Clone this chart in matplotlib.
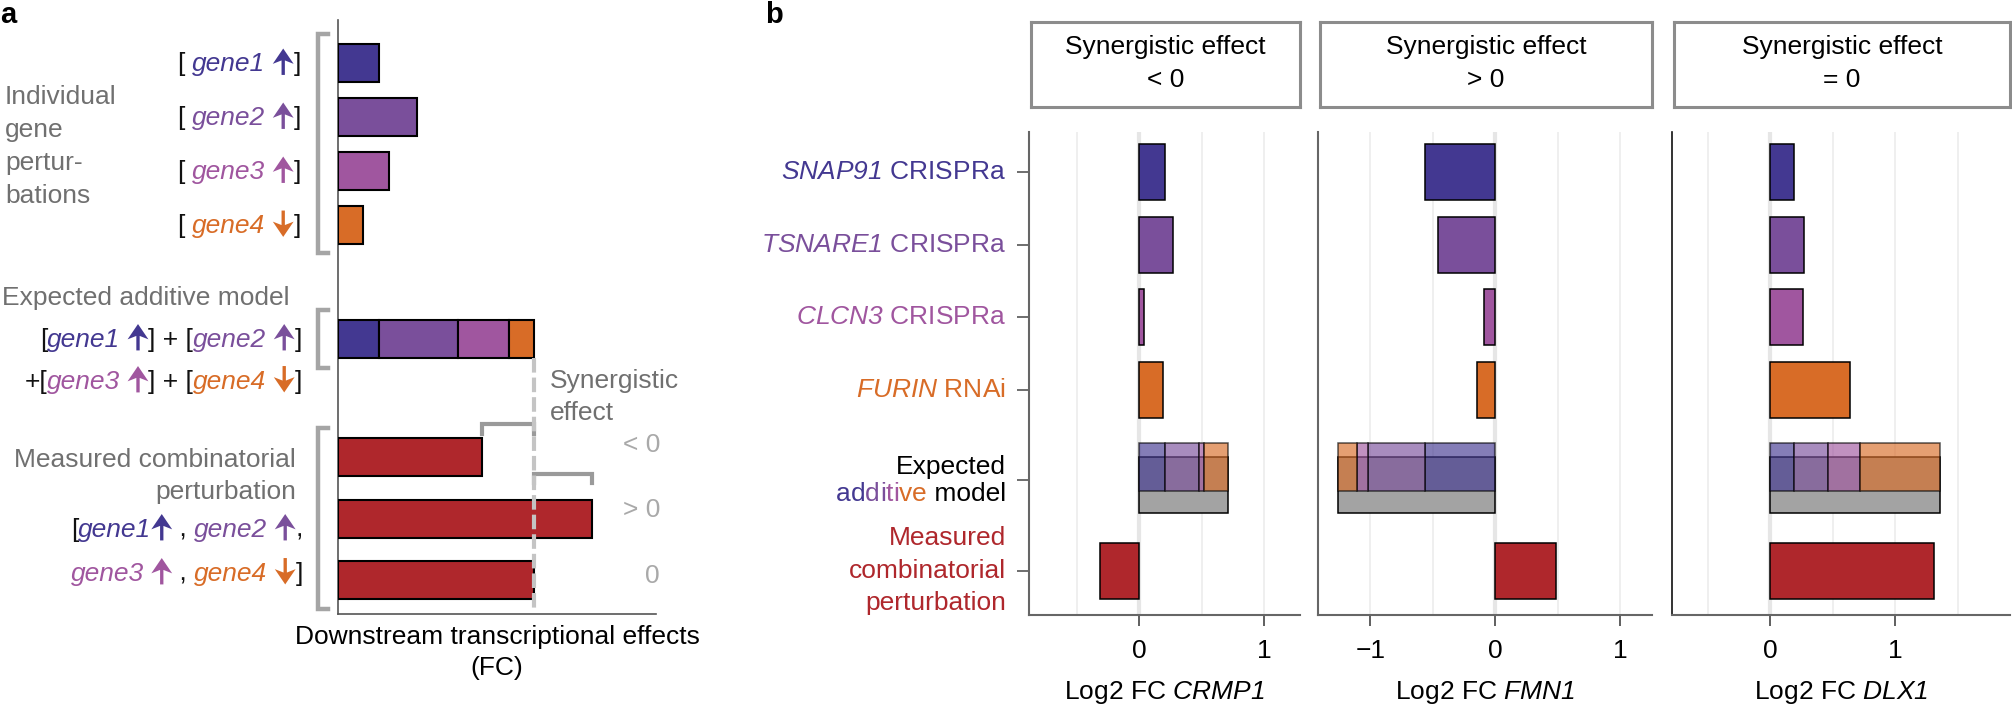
import numpy as np
import matplotlib
matplotlib.use("Agg")
import matplotlib.pyplot as plt
from matplotlib.ticker import MultipleLocator
from matplotlib.offsetbox import TextArea, DrawingArea, HPacker, VPacker, AnnotationBbox
from matplotlib.patches import Polygon

plt.rcParams['font.family'] = ['Liberation Sans', 'DejaVu Sans']
plt.rcParams['mathtext.fontset'] = 'custom'
plt.rcParams['mathtext.rm'] = 'Liberation Sans'
plt.rcParams['mathtext.it'] = 'Liberation Sans:italic'
# sf slot used for italic gene names (keeps digits italic too)
plt.rcParams['mathtext.sf'] = 'Liberation Sans:italic'

W, H = 2012, 706
FS = 19

BLUE = '#433891'
PURPLE = '#7a4f9b'
MAGENTA = '#a0569f'
ORANGE = '#d86c27'
RED = '#af272c'
GRAYTXT = '#707070'
gene_colors = [BLUE, PURPLE, MAGENTA, ORANGE]

# panel a (schematic, arbitrary FC units)
a_genes = ['gene1', 'gene2', 'gene3', 'gene4']
a_dirs = ['up', 'up', 'up', 'down']
a_single = [0.41, 0.79, 0.51, 0.25]
a_measured = [1.44, 2.54, 1.96]
a_syn_labels = ['< 0', '> 0', '0']

# panel b
b_targets = ['CRMP1', 'FMN1', 'DLX1']
b_titles = ['< 0', '> 0', '= 0']
b_perturb = ['SNAP91', 'TSNARE1', 'CLCN3', 'FURIN']
b_method = ['CRISPRa', 'CRISPRa', 'CRISPRa', 'RNAi']
crmp1_single = [0.21, 0.27, 0.04, 0.19]
fmn1_single = [-0.56, -0.46, -0.09, -0.15]
dlx1_single = [0.19, 0.27, 0.26, 0.64]
b_measured = [-0.31, 0.49, 1.31]
b_xlims = [(-0.88, 1.285), (-1.42, 1.255), (-0.785, 1.92)]


def fy(y):
    return 1 - y / H


def axes_px(l, t, r, b):
    return fig.add_axes([l / W, 1 - b / H, (r - l) / W, (b - t) / H])


def arrow_box(color, direction):
    w, h, d = 15, 19, 2.5
    da = DrawingArea(w, h, 0, d)
    pts = np.array([[0.5, 1.0], [1.0, 0.42], [0.58, 0.55], [0.58, 0.0],
                     [0.42, 0.0], [0.42, 0.55], [0.0, 0.42]])
    if direction == 'down':
        pts[:, 1] = 1 - pts[:, 1]
    pts = pts * [w, h] - [0, d]
    da.add_artist(Polygon(pts, closed=True, facecolor=color, edgecolor='none'))
    return da


def rich(parts, x, y, align=1.0):
    kids = []
    for p in parts:
        if p[0] == 'arrow':
            kids.append(arrow_box(p[1], p[2]))
        else:
            s, col, it = p
            kids.append(TextArea(s, textprops=dict(color=col, fontsize=FS,
                                                   fontstyle='italic' if it else 'normal')))
    box = HPacker(children=kids, align='baseline', pad=0, sep=0)
    ab = AnnotationBbox(box, (x, H - y), xycoords='figure pixels',
                        box_alignment=(align, 0.5), frameon=False, pad=0,
                        annotation_clip=False)
    fig.add_artist(ab)


fig = plt.figure(figsize=(W / 100, H / 100), dpi=100)

# ---------------- panel a ----------------
axa = axes_px(338, 20, 656, 614)
rows_a = [42.5, 96.5, 150.5, 204.5, 319, 437, 499, 560]
bh = 38
axa.barh(rows_a[:4], a_single, height=bh, color=gene_colors, edgecolor='black', lw=1.5, zorder=3)
lefts = np.cumsum(a_single) - a_single
axa.barh([rows_a[4]] * 4, a_single, left=lefts, height=bh, color=gene_colors,
         edgecolor='black', lw=1.5, zorder=3)
axa.barh(rows_a[5:], a_measured, height=bh, color=RED, edgecolor='black', lw=1.5, zorder=3)
axa.set_xlim(0, 3.18)
axa.set_ylim(594, 0)
axa.set_xticks([])
axa.set_yticks([])
for s in ['top', 'right']:
    axa.spines[s].set_visible(False)
for s in ['left', 'bottom']:
    axa.spines[s].set_color('#555555')
    axa.spines[s].set_linewidth(1.2)

total = np.sum(a_single)
axa.plot([total, total], [rows_a[4] + bh / 2, 589], ls=(0, (3.5, 1.2)), color='#c4c4c4',
         lw=3, zorder=4)
y1 = rows_a[5] - 33
axa.plot([a_measured[0], a_measured[0], total, total], [y1 + 10, y1, y1, y1 + 10],
         color='#9a9a9a', lw=3, solid_joinstyle='miter', zorder=2, clip_on=False)
y2 = rows_a[6] - 45
axa.plot([total, total, a_measured[1], a_measured[1]], [y2 + 9, y2, y2, y2 + 9],
         color='#9a9a9a', lw=3, solid_joinstyle='miter', zorder=2, clip_on=False)

# group brackets
tr = axa.get_yaxis_transform()
for g in [(0, 3), (4, 4), (5, 7)]:
    top = rows_a[g[0]] - 29
    bot = rows_a[g[1]] + 28.5
    axa.plot([-0.0314, -0.0629, -0.0629, -0.0314], [top, top, bot, bot], transform=tr,
             color='#a5a5a5', lw=3.2, solid_joinstyle='miter', clip_on=False)

fig.text(0, fy(23), 'a', fontweight='bold', fontsize=21, va='baseline')
fig.text(765 / W, fy(23), 'b', fontweight='bold', fontsize=21, va='baseline')

for i, line in enumerate(['Individual', 'gene', 'pertur-', 'bations']):
    fig.text(5 / W, fy(97 + 33 * i), line, color=GRAYTXT, fontsize=FS, va='center')
fig.text(2 / W, fy(298), 'Expected additive model', color=GRAYTXT, fontsize=FS, va='center')
fig.text(296 / W, fy(460), 'Measured combinatorial', color=GRAYTXT, fontsize=FS,
         va='center', ha='right')
fig.text(296 / W, fy(492), 'perturbation', color=GRAYTXT, fontsize=FS, va='center', ha='right')

K = '#111111'
for i in range(4):
    rich([('[ ', K, False), (a_genes[i], gene_colors[i], True), (' ', K, False),
          ('arrow', gene_colors[i], a_dirs[i]), (']', K, False)], 301, 62.5 + 54 * i)


def g(i):
    return (a_genes[i], gene_colors[i], True)


def ar(i):
    return ('arrow', gene_colors[i], a_dirs[i])


rich([('[', K, False), g(0), (' ', K, False), ar(0), ('] + [', K, False), g(1),
      (' ', K, False), ar(1), (']', K, False)], 302, 338)
rich([('+[', K, False), g(2), (' ', K, False), ar(2), ('] + [', K, False), g(3),
      (' ', K, False), ar(3), (']', K, False)], 302, 380)
rich([('[', K, False), g(0), ar(0), (' , ', K, False), g(1), (' ', K, False), ar(1),
      (',', K, False)], 303, 528)
rich([g(2), (' ', K, False), ar(2), (' , ', K, False), g(3), (' ', K, False), ar(3),
      (']', K, False)], 303, 572)

fig.text(550 / W, fy(381), 'Synergistic', color=GRAYTXT, fontsize=FS, va='center')
fig.text(550 / W, fy(413), 'effect', color=GRAYTXT, fontsize=FS, va='center')
for lab, yy in zip(a_syn_labels, [445, 510, 576]):
    fig.text(660 / W, fy(yy), lab, color='#a9a9a9', fontsize=FS, va='center', ha='right')

fig.text(497 / W, fy(637), 'Downstream transcriptional effects', fontsize=FS,
         ha='center', va='center')
fig.text(497 / W, fy(668), '(FC)', fontsize=FS, ha='center', va='center')

# ---------------- panel b ----------------
rows_b = [0, 1, 2, 3, 4.24, 5.48]
pos_px = [(1029, 1300), (1318, 1652), (1672, 2010)]
singles = [crmp1_single, fmn1_single, dlx1_single]
axes_b = []
for k in range(3):
    l, r = pos_px[k]
    ax = axes_px(l, 132, r, 615)
    axes_b.append(ax)
    vals = singles[k]
    ax.axvline(0, color='#e6e6e6', lw=3, zorder=1)
    ax.barh(rows_b[:4], vals, height=0.77, color=gene_colors, edgecolor='black',
            lw=1.1, zorder=3)
    tot = np.sum(vals)
    ax.barh(rows_b[4] + 0.06, tot, height=0.765, color='#a3a3a3', edgecolor='black',
            lw=1.1, zorder=3)
    left = np.cumsum(vals) - vals
    ax.barh([rows_b[4] - 0.18] * 4, vals, left=left, height=0.656, color=gene_colors,
            edgecolor='black', lw=1.1, alpha=0.65, zorder=4)
    ax.barh(rows_b[5], b_measured[k], height=0.77, color=RED, edgecolor='black',
            lw=1.1, zorder=3)
    ax.set_xlim(*b_xlims[k])
    ax.set_ylim(6.09, -0.55)
    ax.xaxis.set_major_locator(MultipleLocator(1))
    ax.xaxis.set_minor_locator(MultipleLocator(0.5))
    ax.grid(axis='x', which='both', color='#ececec', lw=1.2)
    ax.set_axisbelow(True)
    ax.tick_params(axis='x', which='minor', length=0)
    ax.tick_params(axis='x', which='major', length=8, width=1.2, color='#444444',
                   labelsize=FS, pad=9.5)
    ax.set_yticks(rows_b)
    if k == 0:
        ax.tick_params(axis='y', length=8.5, width=1.2, color='#555555', labelleft=False)
    else:
        ax.tick_params(axis='y', left=False, labelleft=False)
    for s in ['top', 'right']:
        ax.spines[s].set_visible(False)
    for s in ['left', 'bottom']:
        ax.spines[s].set_color('#666666')
        ax.spines[s].set_linewidth(1.5)
    if k == 2:
        ax.spines['left'].set_color('#111111')
        ax.spines['left'].set_linewidth(1.2)
    ax.set_xlabel(r'Log2 FC $\mathsf{' + b_targets[k] + '}$', fontsize=FS, labelpad=11.5)

    st = axes_px(l + 2, 22, r, 107)
    st.set_xticks([])
    st.set_yticks([])
    for s in st.spines.values():
        s.set_color('#8c8c8c')
        s.set_linewidth(2.2)
    st.text(0.5, 0.706, 'Synergistic effect', ha='center', va='center', fontsize=FS,
            transform=st.transAxes)
    st.text(0.5, 0.318, b_titles[k], ha='center', va='center', fontsize=FS,
            transform=st.transAxes)

ax1 = axes_b[0]
ytr = ax1.get_yaxis_transform()
xlab = -0.0849
for i in range(4):
    ax1.text(xlab, rows_b[i], r'$\mathsf{' + b_perturb[i] + '}$ ' + b_method[i],
             transform=ytr, ha='right', va='center', fontsize=FS, color=gene_colors[i])

add_cols = [BLUE, BLUE, PURPLE, PURPLE, MAGENTA, MAGENTA, ORANGE, ORANGE]
kids = [TextArea(ch, textprops=dict(color=c, fontsize=FS)) for ch, c in zip('additive', add_cols)]
kids.append(TextArea(' model', textprops=dict(color='black', fontsize=FS)))
exp_box = VPacker(children=[TextArea('Expected', textprops=dict(color='black', fontsize=FS)),
                            HPacker(children=kids, align='baseline', pad=0, sep=0)],
                  align='right', pad=0, sep=2)
ab = AnnotationBbox(exp_box, (xlab, rows_b[4]), xycoords=ytr, box_alignment=(1, 0.5),
                    frameon=False, pad=0, annotation_clip=False)
ax1.add_artist(ab)

for line, dy in zip(['Measured', 'combinatorial', 'perturbation'], [23.8, 0, -23.2]):
    ax1.annotate(line, xy=(xlab, rows_b[5]), xycoords=ytr, xytext=(0, dy),
                 textcoords='offset points', ha='right', va='center', fontsize=FS,
                 color=RED, annotation_clip=False)

fig.savefig('out.png', dpi=100)
